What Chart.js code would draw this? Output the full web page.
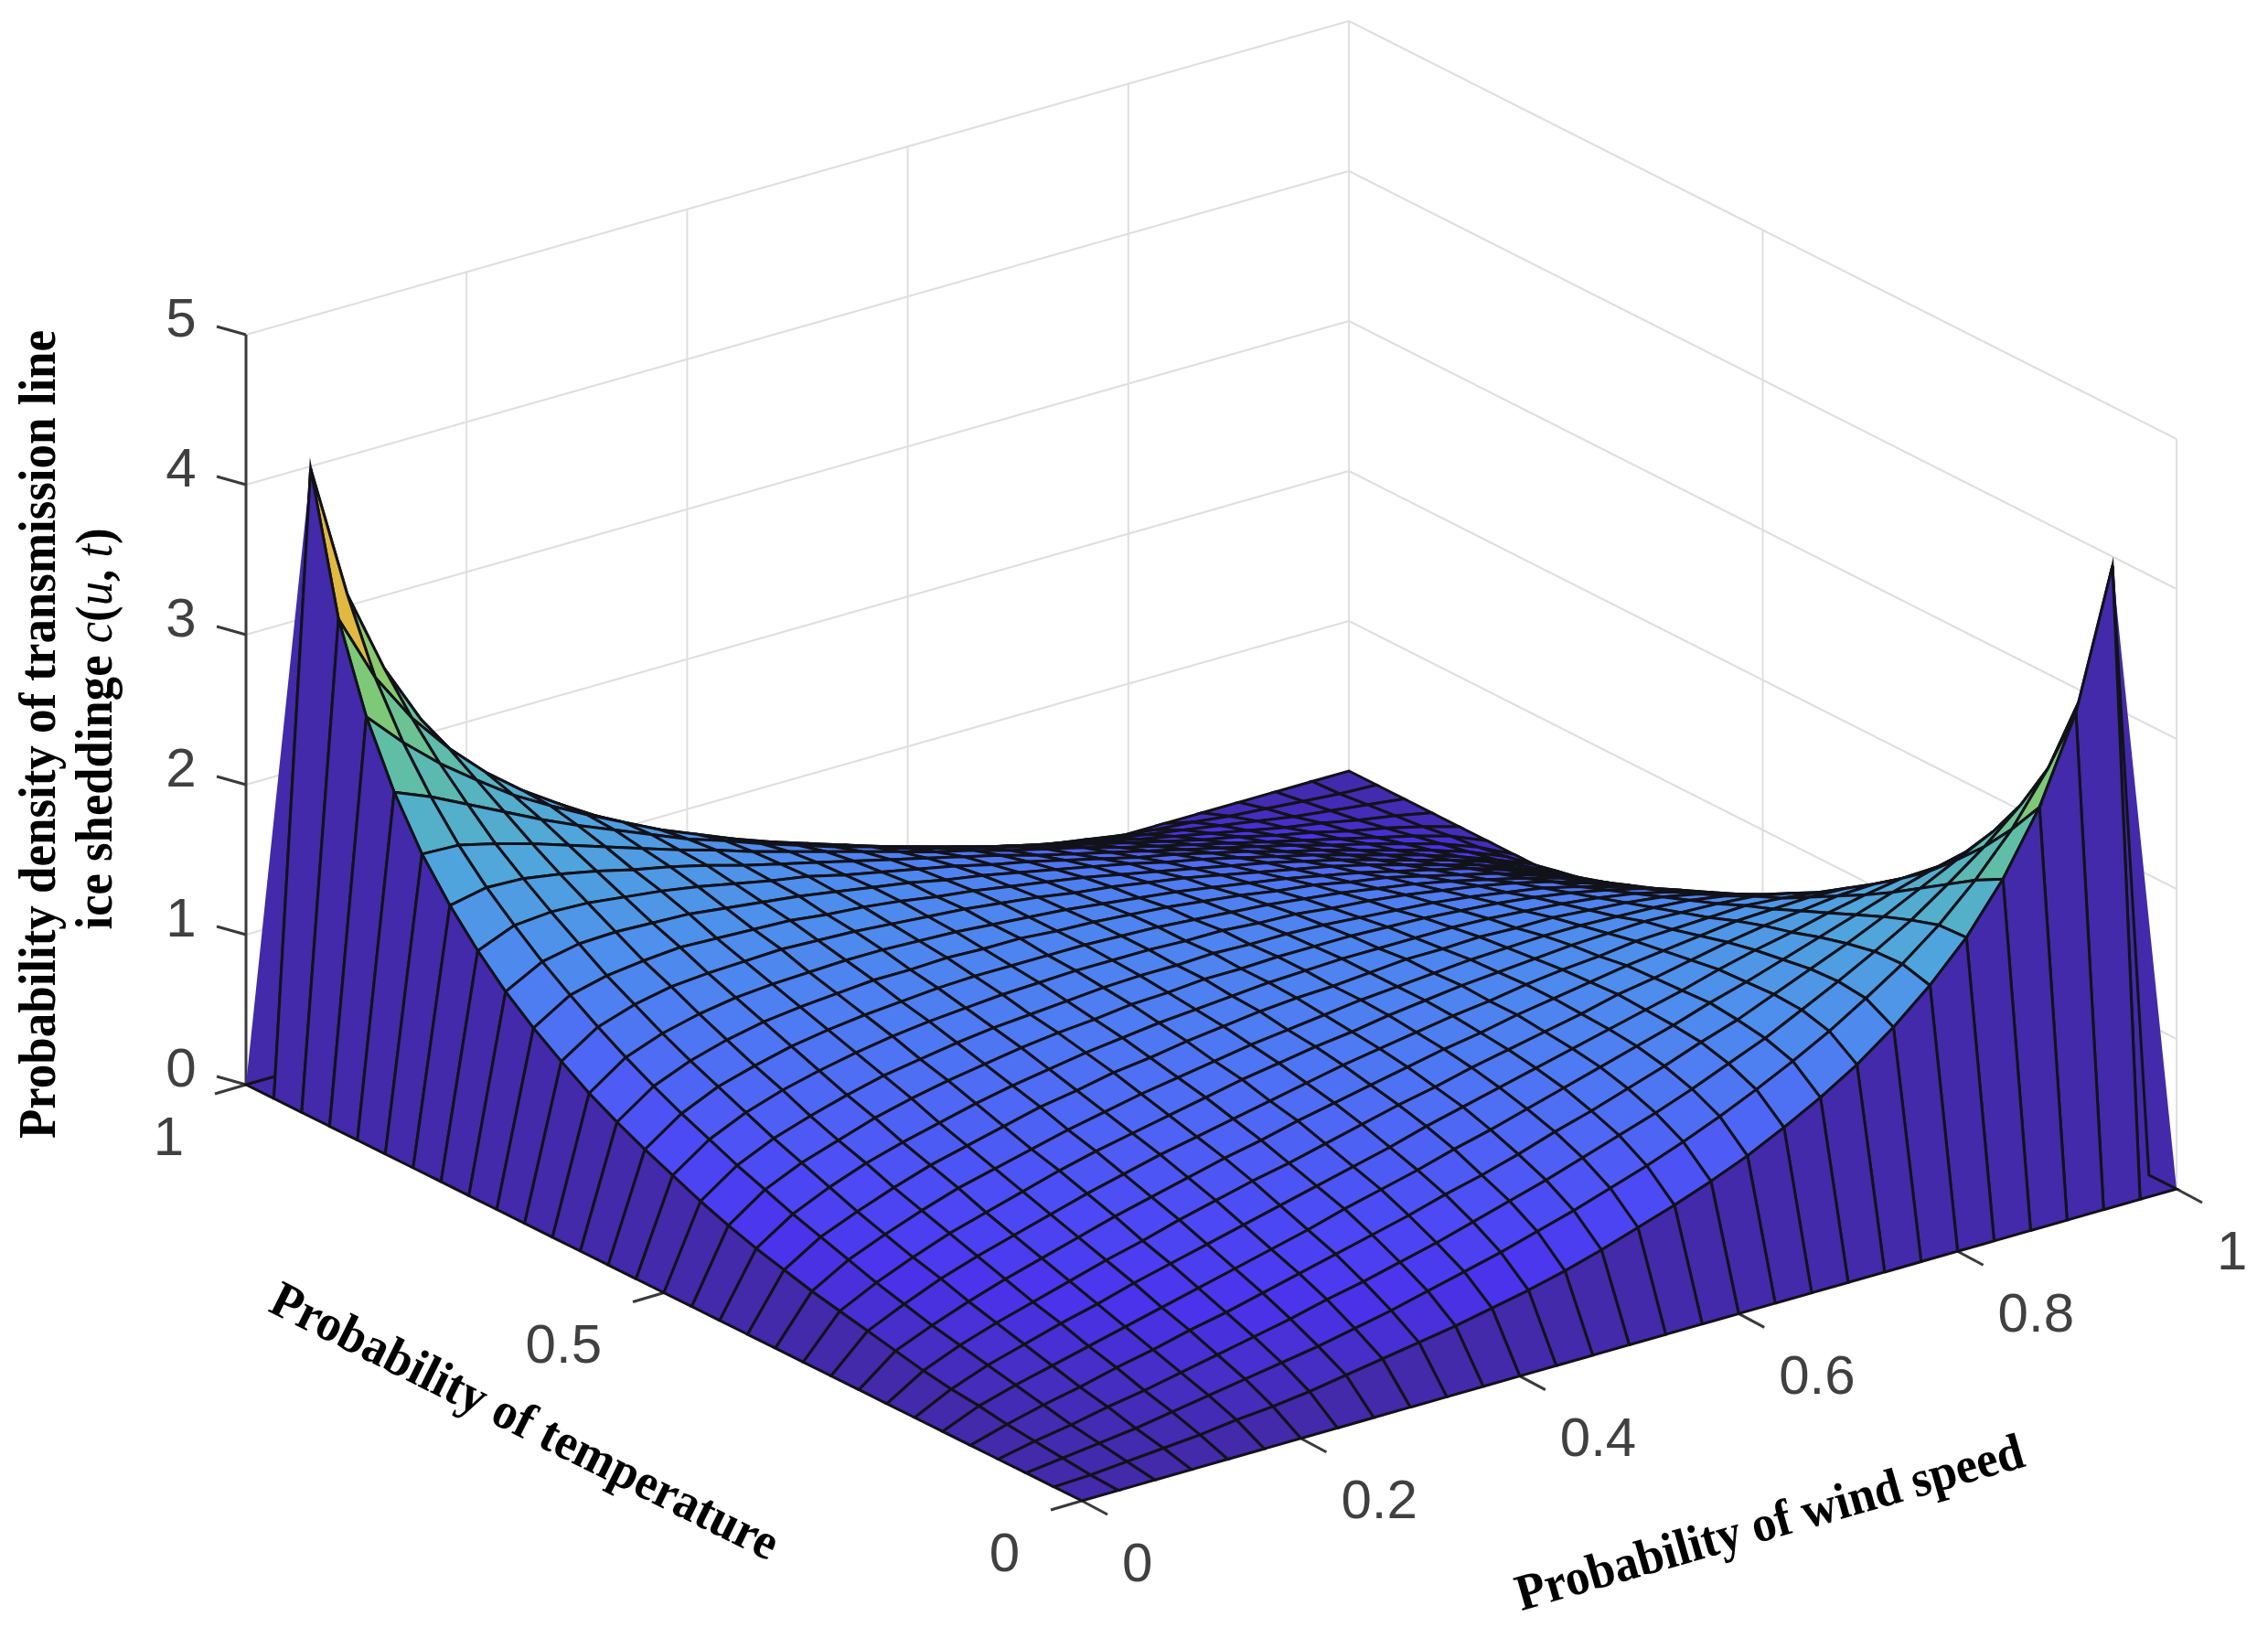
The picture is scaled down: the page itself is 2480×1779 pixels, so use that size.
<!DOCTYPE html>
<html>
<head>
<meta charset="utf-8">
<style>body{margin:0;background:#fff}canvas{display:block}</style>
<script src="https://cdn.jsdelivr.net/npm/chart.js@4"></script>
</head>
<body>
<canvas id="chart" width="2480" height="1779"></canvas>
<script>
const zTicks = [0, 1, 2, 3, 4, 5];
const uTicks = [0, 0.2, 0.4, 0.6, 0.8, 1];
const tTicks = [0, 0.5, 1];
const zTitle1 = "Probability density of transmission line";
const uTitle = "Probability of wind speed";
const tTitle = "Probability of temperature";

// density c(u,t), one row per wind speed step, one column per temperature step
const density = [
[0,0,0,0,0,0,0,0,0,0,0,0,0,0,0,0,0,0,0,0,0,0,0,0,0,0,0,0,0,0,0],
[0,.01,.03,.05,.07,.10,.12,.15,.19,.23,.27,.31,.36,.41,.47,.54,.62,.70,.79,.89,1.01,1.14,1.29,1.47,1.68,1.93,2.25,2.66,3.22,4.13,0],
[0,.03,.06,.09,.13,.17,.21,.25,.29,.34,.39,.45,.51,.57,.64,.71,.79,.87,.96,1.06,1.17,1.29,1.42,1.57,1.73,1.92,2.15,2.42,2.76,3.22,0],
[0,.05,.09,.14,.18,.23,.28,.33,.38,.44,.49,.55,.61,.68,.75,.82,.90,.98,1.06,1.15,1.25,1.35,1.47,1.59,1.72,1.86,2.03,2.21,2.42,2.66,0],
[0,.07,.13,.18,.24,.29,.35,.40,.46,.52,.58,.64,.70,.77,.83,.90,.98,1.05,1.13,1.21,1.30,1.38,1.48,1.58,1.68,1.79,1.91,2.03,2.15,2.25,0],
[0,.10,.17,.23,.29,.35,.41,.47,.53,.59,.65,.72,.78,.84,.91,.97,1.04,1.11,1.18,1.25,1.32,1.40,1.47,1.55,1.63,1.71,1.79,1.86,1.92,1.93,0],
[0,.12,.21,.28,.35,.41,.48,.54,.60,.66,.72,.78,.84,.90,.97,1.03,1.09,1.15,1.21,1.27,1.33,1.39,1.46,1.52,1.57,1.63,1.68,1.72,1.73,1.68,0],
[0,.15,.25,.33,.40,.47,.54,.60,.67,.73,.79,.84,.90,.96,1.02,1.07,1.13,1.18,1.23,1.28,1.34,1.38,1.43,1.48,1.52,1.55,1.58,1.59,1.57,1.47,0],
[0,.19,.29,.38,.46,.53,.60,.67,.73,.79,.85,.90,.96,1.01,1.06,1.11,1.16,1.20,1.25,1.29,1.33,1.37,1.40,1.43,1.46,1.47,1.48,1.47,1.42,1.29,0],
[0,.23,.34,.44,.52,.59,.66,.73,.79,.85,.90,.95,1.00,1.05,1.10,1.14,1.18,1.22,1.25,1.29,1.32,1.34,1.37,1.38,1.39,1.40,1.38,1.35,1.29,1.14,0],
[0,.27,.39,.49,.58,.65,.72,.79,.85,.90,.95,1.00,1.05,1.09,1.13,1.16,1.20,1.23,1.26,1.28,1.30,1.32,1.33,1.34,1.33,1.32,1.30,1.25,1.17,1.01,0],
[0,.31,.45,.55,.64,.72,.78,.84,.90,.95,1.00,1.04,1.08,1.12,1.15,1.18,1.21,1.23,1.25,1.27,1.28,1.29,1.29,1.28,1.27,1.25,1.21,1.15,1.06,.89,0],
[0,.36,.51,.61,.70,.78,.84,.90,.96,1.00,1.05,1.08,1.12,1.15,1.18,1.20,1.22,1.23,1.25,1.25,1.26,1.25,1.25,1.23,1.21,1.18,1.13,1.06,.96,.79,0],
[0,.41,.57,.68,.77,.84,.90,.96,1.01,1.05,1.09,1.12,1.15,1.17,1.19,1.21,1.22,1.23,1.23,1.23,1.23,1.22,1.20,1.18,1.15,1.11,1.05,.98,.87,.70,0],
[0,.47,.64,.75,.83,.91,.97,1.02,1.06,1.10,1.13,1.15,1.18,1.19,1.21,1.21,1.22,1.22,1.22,1.21,1.20,1.18,1.16,1.13,1.09,1.04,.98,.90,.79,.62,0],
[0,.54,.71,.82,.90,.97,1.03,1.07,1.11,1.14,1.16,1.18,1.20,1.21,1.21,1.22,1.21,1.21,1.20,1.18,1.16,1.14,1.11,1.07,1.03,.97,.90,.82,.71,.54,0],
[0,.62,.79,.90,.98,1.04,1.09,1.13,1.16,1.18,1.20,1.21,1.21,1.22,1.22,1.21,1.21,1.19,1.18,1.15,1.13,1.10,1.06,1.02,.97,.91,.83,.75,.64,.47,0],
[0,.70,.87,.98,1.05,1.11,1.15,1.18,1.20,1.22,1.23,1.23,1.23,1.23,1.22,1.21,1.19,1.17,1.15,1.12,1.09,1.05,1.01,.96,.90,.84,.77,.68,.57,.41,0],
[0,.79,.96,1.06,1.13,1.18,1.21,1.23,1.25,1.25,1.26,1.25,1.25,1.23,1.22,1.20,1.18,1.15,1.12,1.08,1.05,1.00,.96,.90,.84,.78,.70,.61,.51,.36,0],
[0,.89,1.06,1.15,1.21,1.25,1.27,1.28,1.29,1.29,1.28,1.27,1.25,1.23,1.21,1.18,1.15,1.12,1.08,1.04,1.00,.95,.90,.84,.78,.72,.64,.55,.45,.31,0],
[0,1.01,1.17,1.25,1.30,1.32,1.33,1.34,1.33,1.32,1.30,1.28,1.26,1.23,1.20,1.16,1.13,1.09,1.05,1.00,.95,.90,.85,.79,.72,.65,.58,.49,.39,.27,0],
[0,1.14,1.29,1.35,1.38,1.40,1.39,1.38,1.37,1.34,1.32,1.29,1.25,1.22,1.18,1.14,1.10,1.05,1.00,.95,.90,.85,.79,.73,.66,.59,.52,.44,.34,.23,0],
[0,1.29,1.42,1.47,1.48,1.47,1.46,1.43,1.40,1.37,1.33,1.29,1.25,1.20,1.16,1.11,1.06,1.01,.96,.90,.85,.79,.73,.67,.60,.53,.46,.38,.29,.19,0],
[0,1.47,1.57,1.59,1.58,1.55,1.52,1.48,1.43,1.38,1.34,1.28,1.23,1.18,1.13,1.07,1.02,.96,.90,.84,.79,.73,.67,.60,.54,.47,.40,.33,.25,.15,0],
[0,1.68,1.73,1.72,1.68,1.63,1.57,1.52,1.46,1.39,1.33,1.27,1.21,1.15,1.09,1.03,.97,.90,.84,.78,.72,.66,.60,.54,.48,.41,.35,.28,.21,.12,0],
[0,1.93,1.92,1.86,1.79,1.71,1.63,1.55,1.47,1.40,1.32,1.25,1.18,1.11,1.04,.97,.91,.84,.78,.72,.65,.59,.53,.47,.41,.35,.29,.23,.17,.10,0],
[0,2.25,2.15,2.03,1.91,1.79,1.68,1.58,1.48,1.38,1.30,1.21,1.13,1.05,.98,.90,.83,.77,.70,.64,.58,.52,.46,.40,.35,.29,.24,.18,.13,.07,0],
[0,2.66,2.42,2.21,2.03,1.86,1.72,1.59,1.47,1.35,1.25,1.15,1.06,.98,.90,.82,.75,.68,.61,.55,.49,.44,.38,.33,.28,.23,.18,.14,.09,.05,0],
[0,3.22,2.76,2.42,2.15,1.92,1.73,1.57,1.42,1.29,1.17,1.06,.96,.87,.79,.71,.64,.57,.51,.45,.39,.34,.29,.25,.21,.17,.13,.09,.06,.03,0],
[0,4.13,3.22,2.66,2.25,1.93,1.68,1.47,1.29,1.14,1.01,.89,.79,.70,.62,.54,.47,.41,.36,.31,.27,.23,.19,.15,.12,.10,.07,.05,.03,.01,0],
[0,0,0,0,0,0,0,0,0,0,0,0,0,0,0,0,0,0,0,0,0,0,0,0,0,0,0,0,0,0,0]
];

// colour ramp: [height, r, g, b]
const ramp = [
  [0, 66, 42, 170], [0.15, 70, 45, 195], [0.35, 75, 50, 235], [0.6, 76, 72, 245],
  [0.85, 78, 98, 245], [1.1, 78, 122, 243], [1.35, 78, 142, 236], [1.7, 80, 165, 220],
  [2.0, 85, 178, 195], [2.3, 98, 192, 160], [2.7, 128, 202, 115], [3.0, 180, 198, 85],
  [3.22, 225, 185, 65], [4.13, 245, 230, 40]
];

const steps = density.length - 1;

// the four floor corners of the box on the page, and page units per unit of height
const front = [1183, 1641], right = [2380, 1300], left = [269, 1186], back = [1475, 843];
const zUnit = 164;

function project(u, t, z) {
  const x = (1-u)*(1-t)*front[0] + u*(1-t)*right[0] + (1-u)*t*left[0] + u*t*back[0];
  const y = (1-u)*(1-t)*front[1] + u*(1-t)*right[1] + (1-u)*t*left[1] + u*t*back[1];
  return { x: x, y: y - z*zUnit };
}

function colorFor(z) {
  let k = 1;
  while (k < ramp.length-1 && ramp[k][0] < z) k++;
  const a = ramp[k-1], b = ramp[k];
  const f = Math.min(1, Math.max(0, (z-a[0])/(b[0]-a[0])));
  const c = [1,2,3].map(n => Math.round(a[n] + (b[n]-a[n])*f));
  return `rgb(${c[0]},${c[1]},${c[2]})`;
}

function lineSet(points, color, width) {
  return { data: points, showLine: true, fill: false, borderColor: color, borderWidth: width, pointRadius: 0 };
}

const datasets = [];

// first dataset ends up on top, so nearest cells go in first
for (let sum = 0; sum <= 2*(steps-1); sum++) {
  for (let i = 0; i < steps; i++) {
    const j = sum - i;
    if (j < 0 || j >= steps) continue;
    const u0 = i/steps, u1 = (i+1)/steps, t0 = j/steps, t1 = (j+1)/steps;
    const first = project(u0, t0, density[i][j]);
    const color = colorFor(density[i][j]);
    const pa = project(u1, t0, density[i+1][j]), pc = project(u0, t1, density[i][j+1]);
    datasets.push({
      data: [first, pa, project(u1, t1, density[i+1][j+1]), pc, first],
      showLine: true,
      fill: 'shape',
      backgroundColor: color,
      borderColor: '#12121a',
      borderWidth: 3,
      pointRadius: 0
    });
    // the two spike cells fold over, the folded part is still painted as a triangle
    if ((i === 0 && j === steps-1) || (i === steps-1 && j === 0)) {
      datasets.push({
        data: [first, pa, pc, first],
        showLine: true,
        fill: 'shape',
        backgroundColor: color,
        borderColor: color,
        borderWidth: 0,
        pointRadius: 0
      });
    }
  }
}

// axis lines and tick marks
const axisColor = '#3a3a3a';
datasets.push(lineSet([project(0,1,0), project(0,1,5)], axisColor, 3));
zTicks.forEach(z => {
  const p = project(0,1,z);
  datasets.push(lineSet([p, {x: p.x-32, y: p.y-9}], axisColor, 3));
});
tTicks.forEach(t => {
  const p = project(0,t,0);
  datasets.push(lineSet([p, {x: p.x-34, y: p.y+10}], axisColor, 3));
});
uTicks.forEach(u => {
  const p = project(u,0,0);
  datasets.push(lineSet([p, {x: p.x+28, y: p.y+15}], axisColor, 3));
});

// back walls
const gridColor = '#dfdfdf';
zTicks.forEach(z => {
  datasets.push(lineSet([project(0,1,z), project(1,1,z)], gridColor, 2));
  datasets.push(lineSet([project(1,1,z), project(1,0,z)], gridColor, 2));
});
uTicks.forEach(u => datasets.push(lineSet([project(u,1,0), project(u,1,5)], gridColor, 2)));
tTicks.forEach(t => datasets.push(lineSet([project(1,t,0), project(1,t,5)], gridColor, 2)));

function drawParts(ctx, parts, cx, cy, angle, length) {
  let total = 0;
  parts.forEach(p => { ctx.font = p[1]; total += ctx.measureText(p[0]).width; });
  ctx.save();
  ctx.translate(cx, cy);
  ctx.rotate(angle);
  ctx.scale(length/total, 1);
  ctx.textAlign = 'left';
  ctx.textBaseline = 'alphabetic';
  ctx.fillStyle = '#000';
  let x = -total/2;
  parts.forEach(p => { ctx.font = p[1]; ctx.fillText(p[0], x, 0); x += ctx.measureText(p[0]).width; });
  ctx.restore();
}

const textPlugin = {
  id: 'axisText',
  afterDatasetsDraw(chart) {
    const ctx = chart.ctx;
    ctx.save();
    ctx.font = "60px 'Liberation Sans'";
    ctx.fillStyle = '#404040';
    ctx.textBaseline = 'middle';
    ctx.textAlign = 'center';
    zTicks.forEach(z => {
      const p = project(0,1,z);
      ctx.fillText(String(z), 198, p.y-15);
    });
    ctx.textAlign = 'right';
    tTicks.forEach(t => {
      const p = project(0,t,0);
      ctx.fillText(String(t), p.x-68, p.y+60);
    });
    ctx.textAlign = 'left';
    uTicks.forEach(u => {
      const p = project(u,0,0);
      ctx.fillText(String(u), p.x+44, p.y+71);
    });
    ctx.restore();

    const bold = "bold 56px 'Liberation Serif'", ital = "italic 56px 'Liberation Serif'";
    drawParts(ctx, [[zTitle1, bold]], 60, 803, -Math.PI/2, 884);
    drawParts(ctx, [["ice sheddinge ", bold], ["c", ital], ["(", bold], ["u", ital], [", ", bold], ["t", ital], [")", bold]], 122, 797, -Math.PI/2, 439);
    drawParts(ctx, [[tTitle, bold]], 566, 1570, 0.463, 613);
    drawParts(ctx, [[uTitle, bold]], 1940, 1682, -0.279, 575);
  }
};

new Chart(document.getElementById('chart'), {
  type: 'scatter',
  data: { datasets: datasets },
  options: {
    responsive: false,
    animation: false,
    layout: { padding: 0 },
    elements: { line: { tension: 0 } },
    scales: {
      x: { type: 'linear', min: 0, max: 2480, display: false },
      y: { type: 'linear', min: 0, max: 1779, reverse: true, display: false }
    },
    plugins: {
      legend: { display: false },
      tooltip: { enabled: false },
      filler: { drawTime: 'beforeDatasetDraw' }
    }
  },
  plugins: [textPlugin]
});
</script>
</body>
</html>
